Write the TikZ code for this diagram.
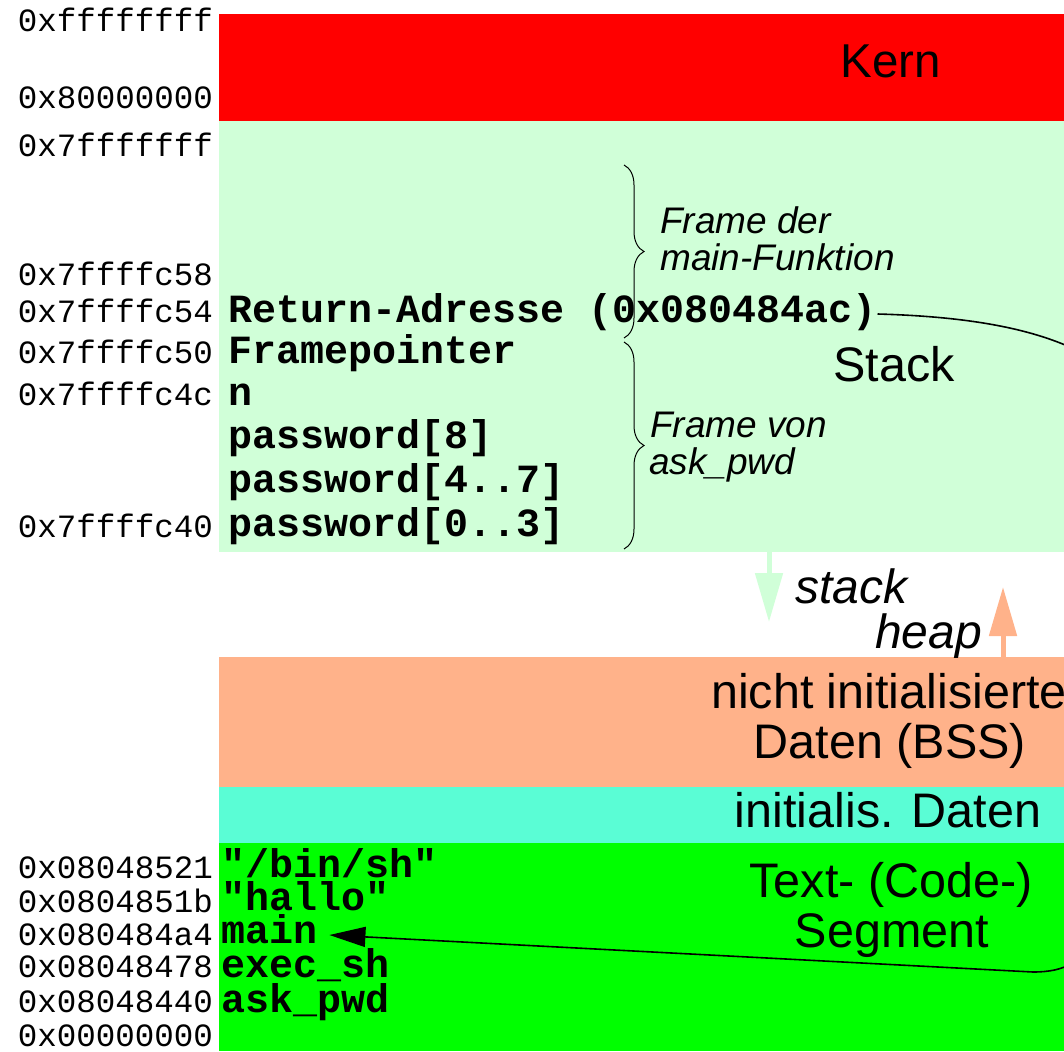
\documentclass[tikz,border=0pt]{standalone}
\usepackage{fontspec}
\setmainfont{Liberation Sans}
\newfontfamily\addrfont{Liberation Mono}
\usetikzlibrary{arrows.meta,decorations.pathreplacing}
\definecolor{kernred}{HTML}{FF0000}
\definecolor{stackgreen}{HTML}{D0FFD8}
\definecolor{bssorange}{HTML}{FFB28A}
\definecolor{initcyan}{HTML}{5AFDD5}
\definecolor{textgreen}{HTML}{00FF00}
\begin{document}
\begin{tikzpicture}[x=1pt,y=-1pt,
  seg/.style={draw=none,inner sep=0pt,outer sep=0pt,anchor=north west,minimum width=845pt},
  addr/.style={inner sep=0pt,anchor=base east,font=\addrfont\fontsize{32.5}{32.5}\selectfont},
  var/.style={inner sep=0pt,anchor=base west,font=\addrfont\bfseries\fontsize{40}{40}\selectfont},
  big/.style={inner sep=0pt,anchor=base,font=\fontsize{48.5}{50}\selectfont},
  note/.style={inner sep=0pt,anchor=base west,font=\itshape\fontsize{37}{37}\selectfont},
  growlabel/.style={inner sep=0pt,anchor=base west,font=\itshape\fontsize{48}{48}\selectfont},
  framebrace/.style={decorate,decoration={brace,amplitude=20pt},line width=1pt},
  link/.style={line width=1.6pt,-{Triangle[length=36pt,width=20pt]}},
  growarrow/.style={line width=5pt,-{Triangle[length=49pt,width=27pt]}}
]
\useasboundingbox (0,0) rectangle (1064,1051);
\clip (0,0) rectangle (1064,1051);
\fill[white] (0,0) rectangle (1064,1051);

% segments
\node[seg,fill=kernred,minimum height=107pt] (kern) at (219,14) {};
\node[seg,fill=stackgreen,minimum height=431pt] (stack) at (219,121) {};
\node[seg,fill=bssorange,minimum height=130pt] (bss) at (219,657) {};
\node[seg,fill=initcyan,minimum height=56pt] (init) at (219,787) {};
\node[seg,fill=textgreen,minimum height=208pt] (text) at (219,843) {};

% segment labels
\node[big,font=\fontsize{47.5}{50}\selectfont] (lkern) at (891,78) {Kern};
\node[big] (lstack) at (894,381) {Stack};
\node[big] (lbss1) at (889,708) {nicht initialisierte};
\node[big] (lbss2) at (890,758) {Daten (BSS)};
\node[big] (linit) at (888,827) {initialis. Daten};
\node[big] (ltext1) at (891,897) {Text- (Code-)};
\node[big] (ltext2) at (892,947) {Segment};

% addresses
\node[addr] (a1) at (213,32) {0xffffffff};
\node[addr] (a2) at (213,109) {0x80000000};
\node[addr] (a3) at (213,157) {0x7fffffff};
\node[addr] (a4) at (213,285) {0x7ffffc58};
\node[addr] (a5) at (213,322) {0x7ffffc54};
\node[addr] (a6) at (213,363) {0x7ffffc50};
\node[addr] (a7) at (213,405) {0x7ffffc4c};
\node[addr] (a8) at (213,537) {0x7ffffc40};
\node[addr] (b1) at (213,878) {0x08048521};
\node[addr] (b2) at (213,912) {0x0804851b};
\node[addr] (b3) at (213,945) {0x080484a4};
\node[addr] (b4) at (213,977) {0x08048478};
\node[addr] (b5) at (213,1012) {0x08048440};
\node[addr] (b6) at (213,1046) {0x00000000};

% stack contents
\node[var] (ret) at (228,322) {Return-Adresse (0x080484ac)};
\node[var] (fp) at (228,363) {Framepointer};
\node[var] (n) at (228,405) {n};
\node[var] (pw8) at (228,448) {password[8]};
\node[var] (pw47) at (228,492) {password[4..7]};
\node[var] (pw03) at (228,536) {password[0..3]};

% text segment contents
\node[var] (binsh) at (221,877) {"/bin/sh"};
\node[var] (hallo) at (221,910) {"hallo"};
\node[var] (main) at (221,943) {main};
\node[var] (execsh) at (221,977) {exec\_sh};
\node[var] (askpwd) at (221,1012) {ask\_pwd};

% frame braces
\coordinate (br1t) at (624,165);
\coordinate (br1b) at (624,338);
\coordinate (br2t) at (624,342);
\coordinate (br2b) at (624,549);
\draw[framebrace] (br1t) -- (br1b);
\draw[framebrace] (br2t) -- (br2b);
\node[note] (fm1) at (660,233) {Frame der};
\node[note] (fm2) at (660,270) {main-Funktion};
\node[note] (fa1) at (650,437) {Frame von};
\node[note] (fa2) at (649,474) {ask\_pwd};

% growth arrows
\coordinate (sgs) at (769,552);
\coordinate (sge) at (769,622);
\coordinate (hgs) at (1003,657);
\coordinate (hge) at (1003,587);
\draw[growarrow,stackgreen] (sgs) -- (sge);
\draw[growarrow,bssorange] (hgs) -- (hge);
\node[growlabel] (lsg) at (795,603) {stack};
\node[growlabel] (lhg) at (875,648) {heap};

% return address link
\draw[link] ([xshift=1pt,yshift=8pt]ret.base east)
  .. controls (985,317) and (1050,333) .. (1095,360)
  -- (1095,930)
  .. controls (1085,962) and (1065,972) .. (1033,972)
  -- ([xshift=12pt,yshift=8pt]main.base east);
\end{tikzpicture}
\end{document}
